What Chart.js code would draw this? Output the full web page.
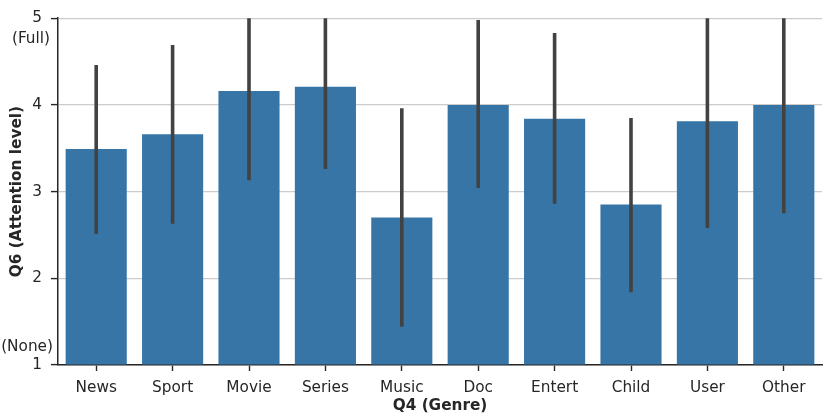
<!DOCTYPE html>
<html><head><meta charset="utf-8">
<script src="https://cdn.jsdelivr.net/npm/chart.js@4"></script>
<style>html,body{margin:0;padding:0;background:#fff}canvas{display:block}</style>
</head><body>
<canvas id="c" width="830" height="415"></canvas>
<script>
const categories = ['News','Sport','Movie','Series','Music','Doc','Entert','Child','User','Other'];
const means  = [3.49, 3.66, 4.16, 4.21, 2.70, 4.00, 3.84, 2.85, 3.81, 4.00];
const ciLow  = [2.51, 2.63, 3.13, 3.26, 1.44, 3.04, 2.86, 1.84, 2.58, 2.75];
const ciHigh = [4.46, 4.69, 5.19, 5.18, 3.96, 4.98, 4.83, 3.85, 5.04, 5.25];
const yTicks = [1, 2, 3, 4, 5];
const yNotes = {5: '(Full)', 1: '(None)'};

const FONT = 'DejaVu Sans';
const TXT = '#262626';
const FS = 15.3;

const errPlugin = {
  id: 'errbars',
  afterDatasetsDraw(chart) {
    const {ctx, chartArea, scales} = chart;
    const meta = chart.getDatasetMeta(0);
    ctx.save();
    ctx.beginPath();
    ctx.rect(chartArea.left, chartArea.top, chartArea.right - chartArea.left, chartArea.bottom - chartArea.top);
    ctx.clip();
    ctx.strokeStyle = '#424242';
    ctx.lineWidth = 3.6;
    ctx.lineCap = 'butt';
    meta.data.forEach((bar, i) => {
      ctx.beginPath();
      ctx.moveTo(bar.x, scales.y.getPixelForValue(ciLow[i]));
      ctx.lineTo(bar.x, scales.y.getPixelForValue(ciHigh[i]));
      ctx.stroke();
    });
    ctx.restore();
  }
};

const notePlugin = {
  id: 'notes',
  afterDraw(chart) {
    const {ctx, scales} = chart;
    ctx.save();
    ctx.font = FS + 'px "' + FONT + '"';
    ctx.fillStyle = TXT;
    ctx.textAlign = 'right';
    ctx.textBaseline = 'middle';
    const y = scales.y;
    ctx.fillText(yNotes[5], y.right - 8, y.getPixelForValue(5) + 21);
    ctx.fillText(yNotes[1], y.right - 5, y.getPixelForValue(1) - 18);
    ctx.restore();
  }
};

new Chart(document.getElementById('c'), {
  type: 'bar',
  data: {
    labels: categories,
    datasets: [{
      data: means,
      base: 1,
      backgroundColor: '#3675a6',
      borderWidth: 0,
      barPercentage: 0.8,
      categoryPercentage: 1.0
    }]
  },
  options: {
    responsive: false,
    devicePixelRatio: 1,
    animation: false,
    layout: {padding: {top: 16, right: 8, left: 0, bottom: 0}},
    plugins: {legend: {display: false}, tooltip: {enabled: false}},
    scales: {
      x: {
        offset: true,
        grid: {offset: false, drawOnChartArea: false, drawTicks: true, tickLength: 6, tickColor: TXT, tickWidth: 1.4},
        border: {color: TXT, width: 1.5},
        ticks: {color: TXT, font: {family: FONT, size: FS}, padding: 8, maxRotation: 0, autoSkip: false},
        title: {display: true, text: 'Q4 (Genre)', color: TXT, font: {family: FONT, size: FS, weight: 'bold'}, padding: {top: 0, bottom: 0}},
        afterFit(s) { s.height = 50; }
      },
      y: {
        min: 1, max: 5,
        afterBuildTicks(s) { s.ticks = yTicks.map(v => ({value: v})); },
        grid: {color: '#cccccc', lineWidth: 1.2, tickLength: 7, tickColor: TXT, tickWidth: 1.4},
        border: {color: TXT, width: 1.5},
        ticks: {color: TXT, font: {family: FONT, size: FS}, padding: 9, callback: v => String(v)},
        title: {display: true, text: 'Q6 (Attention level)', color: TXT, font: {family: FONT, size: FS, weight: 'bold'}, padding: {top: 8, bottom: 0}},
        afterFit(s) { s.width = 58; }
      }
    }
  },
  plugins: [errPlugin, notePlugin]
});
</script>
</body></html>
